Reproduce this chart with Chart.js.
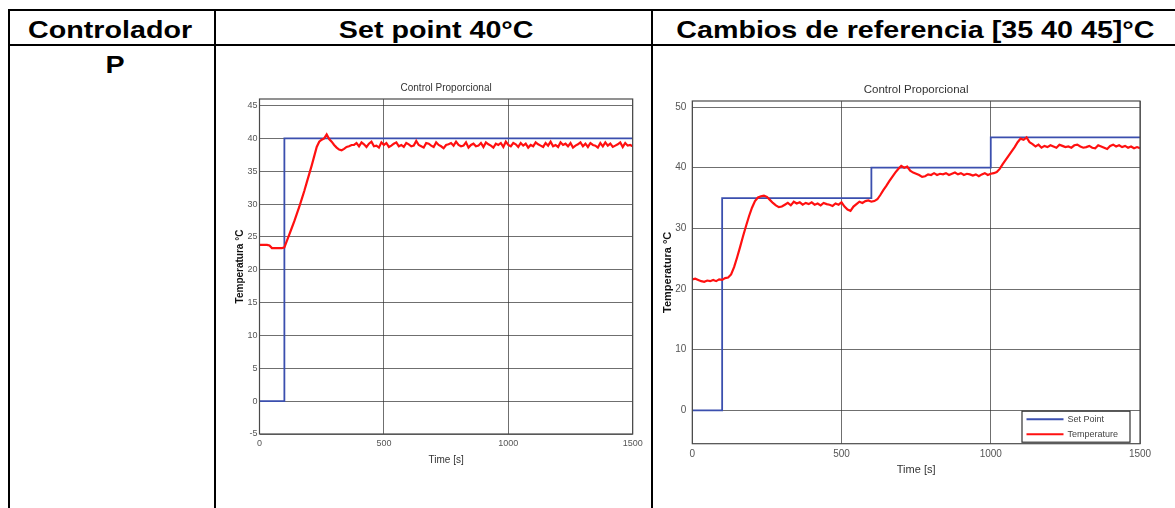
<!DOCTYPE html>
<html>
<head>
<meta charset="utf-8">
<script src="https://cdn.jsdelivr.net/npm/chart.js@4.4.1/dist/chart.umd.min.js"></script>
<style>
body { margin: 0; background: #fff; width: 1175px; height: 508px; overflow: hidden; position: relative; font-family: "Liberation Sans", Arial, sans-serif; }
.rule { position: absolute; background: #000; }
.cell { position: absolute; text-align: center; font-weight: bold; font-size: 24.5px; line-height: 24.5px; white-space: nowrap; color: #000; }
.cell span { display: inline-block; transform: scaleX(1.17); }
canvas { position: absolute; }
</style>
</head>
<body>
<!-- table rules -->
<div class="rule" style="left:8px;top:9px;width:1167px;height:2px"></div>
<div class="rule" style="left:8px;top:44px;width:1167px;height:2px"></div>
<div class="rule" style="left:8px;top:9px;width:2px;height:499px"></div>
<div class="rule" style="left:214px;top:9px;width:2px;height:499px"></div>
<div class="rule" style="left:651px;top:9px;width:2px;height:499px"></div>

<div class="cell" style="left:10px;top:17.6px;width:201px"><span>Controlador</span></div>
<div class="cell" style="left:216px;top:17.6px;width:440px"><span>Set point 40°C</span></div>
<div class="cell" style="left:653px;top:17.6px;width:525px"><span>Cambios de referencia [35 40 45]°C</span></div>
<div class="cell" style="left:10px;top:53.3px;width:210px"><span>P</span></div>

<canvas id="chartSetPoint" width="425" height="400" style="left:222px;top:76px"></canvas>
<canvas id="chartSteps" width="510" height="410" style="left:655px;top:76px"></canvas>

<script>
const sampleStep = 10; // seconds between temperature samples
const seriesNames = ['Set Point', 'Temperature'];
const xTicks = [0, 500, 1000, 1500];

// Set point 40°C
const spTime1 = [0, 100, 1500];
const spValue1 = [0, 40, 40];
const yTicks1 = [-5, 0, 5, 10, 15, 20, 25, 30, 35, 40, 45];
const temp1 = [
    23.8, 23.8, 23.8, 23.8, 23.7, 23.3, 23.3, 23.3, 23.3, 23.3,
    23.4, 24.4, 25.4, 26.4, 27.4, 28.5, 29.6, 30.8, 32.0, 33.3,
    34.6, 35.9, 37.3, 38.7, 39.5, 39.8, 40.0, 40.6, 39.9, 39.5,
    39.0, 38.6, 38.3, 38.2, 38.4, 38.7, 38.8, 39.0, 39.0, 39.3,
    38.8, 39.4, 39.1, 38.7, 39.2, 39.5, 38.8, 38.9, 38.6, 39.4,
    39.0, 39.3, 38.7, 38.9, 39.2, 39.4, 38.8, 39.0, 38.7, 39.3,
    39.1, 38.8, 38.9, 39.6, 39.0, 38.8, 38.6, 39.3, 39.2, 38.9,
    38.7, 39.4, 39.0, 38.8, 38.5, 39.0, 39.1, 39.3, 38.9, 39.5,
    39.0, 38.8, 38.9, 39.4, 38.6, 39.0, 39.2, 38.8, 38.9, 39.3,
    38.7, 39.4, 39.1, 38.9, 38.6, 39.2, 39.0, 39.3, 38.7, 39.5,
    39.0, 38.8, 39.3, 39.1, 38.7, 39.3, 38.9, 39.2, 38.6, 39.0,
    38.8, 39.4, 39.1, 38.9, 38.7, 39.3, 38.9, 39.5, 38.8, 39.0,
    38.7, 39.4, 39.0, 39.2, 38.8, 39.3, 38.6, 38.9, 39.1, 39.4,
    38.8, 39.2, 38.7, 39.3, 39.0, 38.9, 38.6, 39.3, 38.8, 39.4,
    38.9, 39.2, 38.7, 38.9, 39.1, 39.4, 38.7, 39.3, 38.9, 39.0,
    38.8
];

// Cambios de referencia [35 40 45]°C
const spTime2 = [0, 100, 600, 1000, 1500];
const spValue2 = [0, 35, 40, 45, 45];
const yTicks2 = [0, 10, 20, 30, 40, 50];
const temp2 = [
    21.6, 21.7, 21.5, 21.3, 21.2, 21.4, 21.3, 21.5, 21.3, 21.6,
    21.5, 21.8, 21.9, 22.4, 23.6, 25.2, 26.9, 28.7, 30.4, 32.0,
    33.4, 34.5, 35.1, 35.3, 35.4, 35.2, 34.7, 34.2, 33.8, 33.5,
    33.6, 33.9, 34.2, 33.8, 34.4, 34.1, 34.3, 33.9, 34.2, 34.0,
    34.3, 33.9, 34.1, 33.8, 34.2, 34.0, 33.9, 33.7, 34.1, 33.9,
    34.3, 33.6, 33.1, 32.9, 33.6, 34.0, 34.4, 34.2, 34.5, 34.6,
    34.4, 34.5, 34.8, 35.5, 36.3, 37.0, 37.8, 38.5, 39.2, 39.8,
    40.3, 40.0, 40.2, 39.5, 39.2, 39.0, 38.8, 38.5, 38.6, 38.9,
    38.8, 39.1, 38.8, 39.0, 38.9, 39.1, 38.8, 39.0, 39.2, 38.9,
    39.1, 38.8, 39.0, 38.9, 38.7, 38.9, 38.6, 38.9, 39.1, 38.8,
    39.0, 39.1, 39.3, 39.8, 40.6, 41.3, 42.0, 42.7, 43.4, 44.2,
    44.8, 44.6, 45.0, 44.2, 43.9, 43.5, 43.8, 43.3, 43.6, 43.4,
    43.7, 43.5, 43.3, 43.8, 43.6, 43.4, 43.5, 43.3, 43.7, 43.8,
    43.5, 43.3, 43.4, 43.6, 43.3, 43.2, 43.7, 43.5, 43.3, 43.1,
    43.6, 43.8, 43.5, 43.7, 43.4, 43.6, 43.3, 43.5, 43.2, 43.4,
    43.2
];

Chart.defaults.font.family = '"Liberation Sans", Arial, sans-serif';

// MATLAB style box around the axes
const plotBox = {
    id: 'plotBox',
    afterDatasetsDraw(chart) {
        const { ctx, chartArea: a } = chart;
        ctx.save();
        ctx.strokeStyle = '#4a4a4a';
        ctx.lineWidth = 1.2;
        ctx.strokeRect(a.left, a.top, a.right - a.left, a.bottom - a.top);
        ctx.restore();
    }
};

// legend box in the lower right corner of the axes
const insideLegend = {
    id: 'insideLegend',
    afterDraw(chart, args, opts) {
        if (!opts.show) return;
        const { ctx, chartArea: a } = chart;
        const w = 108, h = 31;
        const x = a.right - 10 - w, y = a.bottom - 1.5 - h;
        ctx.save();
        ctx.fillStyle = '#fff';
        ctx.fillRect(x, y, w, h);
        ctx.strokeStyle = '#333';
        ctx.lineWidth = 1.2;
        ctx.strokeRect(x, y, w, h);
        ctx.font = '9px "Liberation Sans", Arial, sans-serif';
        ctx.textBaseline = 'middle';
        chart.data.datasets.forEach((ds, i) => {
            const ly = y + 8 + i * 15;
            ctx.strokeStyle = ds.borderColor;
            ctx.lineWidth = 2;
            ctx.beginPath();
            ctx.moveTo(x + 4.5, ly);
            ctx.lineTo(x + 41.5, ly);
            ctx.stroke();
            ctx.fillStyle = '#444';
            ctx.fillText(ds.label, x + 45.5, ly);
        });
        ctx.restore();
    }
};

const gridColor = 'rgba(50, 50, 50, 0.7)';
const plainNumber = (v) => String(v);

function makeChart(id, o) {
    return new Chart(document.getElementById(id), {
        type: 'line',
        data: {
            datasets: [
                {
                    label: seriesNames[0],
                    data: o.spTime.map((t, i) => ({ x: t, y: o.spValue[i] })),
                    stepped: 'before',
                    borderColor: '#3b4fae',
                    borderWidth: o.spWidth,
                    pointRadius: 0,
                    order: 1,
                },
                {
                    label: seriesNames[1],
                    data: o.temp.map((v, i) => ({ x: i * sampleStep, y: v })),
                    borderColor: '#ff1010',
                    borderWidth: 2.2,
                    pointRadius: 0,
                    order: 0,
                },
            ],
        },
        options: {
            responsive: false,
            animation: false,
            layout: { padding: { left: 0, right: o.padRight, top: 0, bottom: 0 } },
            plugins: {
                legend: { display: false },
                tooltip: { enabled: false },
                title: {
                    display: true,
                    text: 'Control Proporcional',
                    fullSize: false,
                    color: '#333',
                    font: { size: o.titleSize, weight: 'normal' },
                    padding: o.titlePad,
                },
                insideLegend: { show: o.legend },
            },
            scales: {
                x: {
                    type: 'linear',
                    min: 0,
                    max: 1500,
                    afterBuildTicks: (s) => { s.ticks = xTicks.map((v) => ({ value: v })); },
                    afterFit: (s) => { s.height = o.xHeight; },
                    grid: { color: gridColor, drawTicks: false },
                    border: { display: false },
                    ticks: { color: '#555', font: { size: o.tickSize }, padding: o.xTickPad, maxRotation: 0, callback: plainNumber },
                    title: {
                        display: true,
                        text: 'Time [s]',
                        color: '#333',
                        font: { size: o.labelSize },
                        padding: { top: 0, bottom: o.xTitlePad },
                    },
                },
                y: {
                    min: o.yMin,
                    max: o.yMax,
                    afterBuildTicks: (s) => { s.ticks = o.yTicks.map((v) => ({ value: v })); },
                    afterFit: (s) => { s.width = o.yWidth; },
                    grid: { color: gridColor, drawTicks: false },
                    border: { display: false },
                    ticks: { color: '#555', font: { size: o.tickSize }, padding: o.yTickPad, callback: plainNumber },
                    title: {
                        display: true,
                        text: 'Temperatura °C',
                        color: '#111',
                        font: { size: o.labelSize, weight: 'bold' },
                        padding: { top: o.yTitlePad, bottom: 0 },
                    },
                },
            },
        },
        plugins: [plotBox, insideLegend],
    });
}

makeChart('chartSetPoint', {
    spTime: spTime1, spValue: spValue1, temp: temp1, yTicks: yTicks1,
    yMin: -5, yMax: 46, spWidth: 1.8, legend: false,
    padRight: 14.3, titleSize: 10, titlePad: { top: 6, bottom: 5 },
    tickSize: 9, labelSize: 10, xHeight: 42, xTickPad: 4, xTitlePad: 10,
    yWidth: 37.5, yTickPad: 2, yTitlePad: 12,
});

makeChart('chartSteps', {
    spTime: spTime2, spValue: spValue2, temp: temp2, yTicks: yTicks2,
    yMin: -5.5, yMax: 51, spWidth: 1.8, legend: true,
    padRight: 25, titleSize: 11.5, titlePad: { top: 7, bottom: 4.2 },
    tickSize: 10, labelSize: 11, xHeight: 42.3, xTickPad: 5, xTitlePad: 9.4,
    yWidth: 37.3, yTickPad: 6, yTitlePad: 6.4,
});
</script>
</body>
</html>
